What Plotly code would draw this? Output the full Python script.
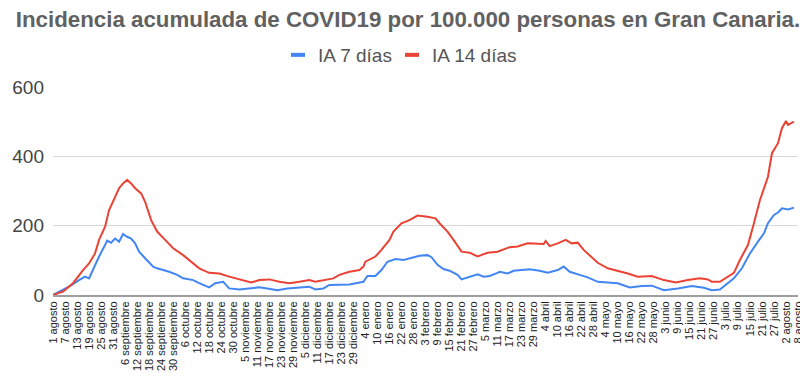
import plotly.graph_objects as go
import pandas as pd

TITULO = "Incidencia acumulada de COVID19 por 100.000 personas en Gran Canaria."
SERIE_7 = "IA 7 días"
SERIE_14 = "IA 14 días"
MESES = ["enero", "febrero", "marzo", "abril", "mayo", "junio", "julio",
         "agosto", "septiembre", "octubre", "noviembre", "diciembre"]

fechas_7 = ["2020-08-01", "2020-08-09", "2020-08-14", "2020-08-17", "2020-08-19", "2020-08-22",
            "2020-08-24", "2020-08-27", "2020-08-28", "2020-08-30", "2020-09-01", "2020-09-03",
            "2020-09-05", "2020-09-07", "2020-09-09", "2020-09-11", "2020-09-13", "2020-09-16",
            "2020-09-20", "2020-09-22", "2020-09-25", "2020-09-28", "2020-10-02", "2020-10-05",
            "2020-10-10", "2020-10-13", "2020-10-18", "2020-10-21", "2020-10-25", "2020-10-28",
            "2020-11-02", "2020-11-07", "2020-11-12", "2020-11-16", "2020-11-21", "2020-11-26",
            "2020-12-02", "2020-12-07", "2020-12-10", "2020-12-14", "2020-12-17", "2020-12-22",
            "2020-12-27", "2021-01-03", "2021-01-05", "2021-01-09", "2021-01-12", "2021-01-15",
            "2021-01-19", "2021-01-23", "2021-01-27", "2021-01-31", "2021-02-04", "2021-02-06",
            "2021-02-09", "2021-02-12", "2021-02-15", "2021-02-19", "2021-02-21", "2021-02-25",
            "2021-03-01", "2021-03-04", "2021-03-07", "2021-03-11", "2021-03-12", "2021-03-16",
            "2021-03-19", "2021-03-27", "2021-04-01", "2021-04-05", "2021-04-10", "2021-04-13",
            "2021-04-16", "2021-04-21", "2021-04-25", "2021-04-30", "2021-05-05", "2021-05-10",
            "2021-05-16", "2021-05-22", "2021-05-27", "2021-06-02", "2021-06-09", "2021-06-16",
            "2021-06-22", "2021-06-26", "2021-06-30", "2021-07-03", "2021-07-07", "2021-07-11",
            "2021-07-15", "2021-07-19", "2021-07-22", "2021-07-24", "2021-07-27", "2021-07-29",
            "2021-07-31", "2021-08-03", "2021-08-06"]
ia_7 = [0, 24, 43, 53, 48, 87,
        111, 144, 157, 151, 163, 154,
        176, 168, 163, 149, 125, 106,
        82, 77, 72, 67, 58, 48,
        43, 34, 22, 34, 38, 19,
        16, 19, 22, 19, 14, 19,
        22, 24, 16, 19, 29, 29,
        30, 38, 55, 55, 72, 96,
        104, 101, 106, 113, 115, 109,
        87, 75, 70, 58, 45, 53,
        60, 53, 55, 64, 67, 62,
        70, 74, 70, 64, 72, 82,
        67, 58, 51, 38, 36, 34,
        22, 26, 27, 14, 19, 26,
        21, 14, 16, 29, 48, 77,
        120, 154, 178, 207, 231, 238,
        250, 247, 252]

fechas_14 = ["2020-08-01", "2020-08-06", "2020-08-11", "2020-08-16", "2020-08-19", "2020-08-22",
             "2020-08-24", "2020-08-27", "2020-08-29", "2020-09-01", "2020-09-03", "2020-09-05",
             "2020-09-07", "2020-09-09", "2020-09-11", "2020-09-14", "2020-09-16", "2020-09-19",
             "2020-09-22", "2020-09-26", "2020-09-30", "2020-10-05", "2020-10-10", "2020-10-13",
             "2020-10-18", "2020-10-23", "2020-10-28", "2020-11-02", "2020-11-08", "2020-11-12",
             "2020-11-17", "2020-11-22", "2020-11-27", "2020-12-02", "2020-12-07", "2020-12-10",
             "2020-12-14", "2020-12-19", "2020-12-22", "2020-12-25", "2020-12-27", "2021-01-01",
             "2021-01-03", "2021-01-04", "2021-01-09", "2021-01-12", "2021-01-16", "2021-01-18",
             "2021-01-22", "2021-01-26", "2021-01-30", "2021-02-04", "2021-02-08", "2021-02-10",
             "2021-02-14", "2021-02-17", "2021-02-21", "2021-02-25", "2021-03-01", "2021-03-06",
             "2021-03-11", "2021-03-17", "2021-03-21", "2021-03-26", "2021-04-03", "2021-04-04",
             "2021-04-06", "2021-04-10", "2021-04-14", "2021-04-17", "2021-04-20", "2021-04-23",
             "2021-04-26", "2021-04-30", "2021-05-05", "2021-05-10", "2021-05-15", "2021-05-20",
             "2021-05-27", "2021-06-02", "2021-06-08", "2021-06-14", "2021-06-20", "2021-06-24",
             "2021-06-26", "2021-06-30", "2021-07-04", "2021-07-07", "2021-07-10", "2021-07-14",
             "2021-07-17", "2021-07-20", "2021-07-24", "2021-07-26", "2021-07-29", "2021-07-31",
             "2021-08-02", "2021-08-03", "2021-08-06"]
ia_14 = [0, 10, 34, 72, 91, 120,
         159, 197, 245, 284, 308, 322,
         332, 322, 308, 293, 269, 216,
         183, 159, 135, 115, 91, 77,
         64, 62, 53, 45, 36, 43,
         45, 38, 34, 38, 43, 38,
         43, 48, 58, 64, 67, 72,
         82, 96, 111, 130, 159, 183,
         207, 216, 229, 226, 221, 207,
         183, 159, 125, 122, 111, 122,
         125, 138, 140, 149, 147, 156,
         141, 149, 159, 149, 151, 130,
         113, 93, 77, 70, 62, 53,
         55, 43, 36, 43, 48, 45,
         38, 38, 53, 64, 101, 144,
         207, 274, 341, 409, 438, 481,
         502, 491, 500]

AZUL = "#4285F4"
ROJO = "#EA4335"
INICIO, FIN = "2020-08-01", "2021-08-08"

tick_fechas = pd.date_range(INICIO, FIN, freq="6D")
tick_textos = [f"{d.day} {MESES[d.month - 1]}" for d in tick_fechas]

W, H = 800, 378  # page body keeps an 8px margin

fig = go.Figure()
fig.add_trace(go.Scatter(x=fechas_7, y=ia_7, mode="lines", name=SERIE_7,
                         line=dict(color=AZUL, width=2), showlegend=False))
fig.add_trace(go.Scatter(x=fechas_14, y=ia_14, mode="lines", name=SERIE_14,
                         line=dict(color=ROJO, width=2), showlegend=False))
# legend entries (short bars like the original)
for nombre, color, leyenda in [(SERIE_7, AZUL, "legend"), (SERIE_14, ROJO, "legend2")]:
    fig.add_trace(go.Scatter(x=[None], y=[None], mode="markers", name=nombre,
                             legend=leyenda,
                             marker=dict(symbol="line-ew", size=10,
                                         line=dict(color=color, width=4))))

leg_comun = dict(orientation="h", xanchor="left", y=1 - 47 / H,
                 yanchor="middle", yref="container",
                 font=dict(size=19, color="#555555"), itemwidth=30,
                 bgcolor="rgba(0,0,0,0)")

fig.update_layout(
    width=W, height=H,
    margin=dict(l=45, r=10, t=79, b=91),
    paper_bgcolor="white", plot_bgcolor="white",
    font=dict(family="Liberation Sans, Arial, sans-serif", color="#444444"),
    title=dict(text="<b>" + TITULO + "</b>", x=0.5, xanchor="center",
               y=1 - 11 / H, yanchor="middle",
               font=dict(size=22.3, color="#616161")),
    legend=dict(x=0.302, xref="paper", **leg_comun),
    legend2=dict(x=0.455, xref="paper", **leg_comun),
    xaxis=dict(type="date", range=[INICIO, FIN], tickmode="array",
               tickvals=list(tick_fechas), ticktext=tick_textos, tickangle=-90,
               tickfont=dict(size=11, color="#222222"), showgrid=False,
               showline=True, linecolor="#9e9e9e", linewidth=2, ticks="",
               automargin=False),
    yaxis=dict(range=[0, 600], tickvals=[0, 200, 400, 600],
               tickfont=dict(size=19, color="#444444"), gridcolor="#d9d9d9",
               gridwidth=1, zeroline=False, showline=False, ticks="",
               ticklabelstandoff=8, automargin=False),
)

fig.write_html("out.html")
